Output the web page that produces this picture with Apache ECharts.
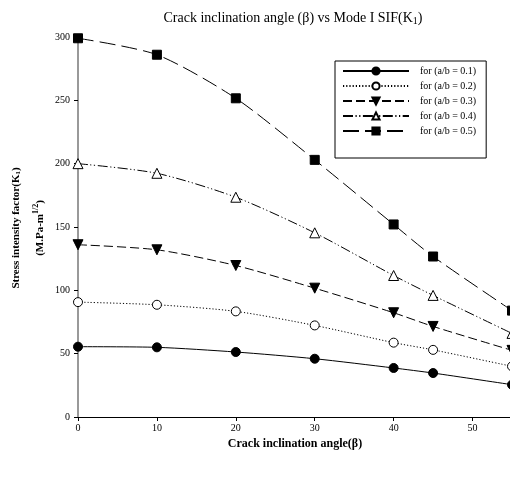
<!DOCTYPE html>
<html>
<head>
<meta charset="utf-8">
<script src="https://cdn.jsdelivr.net/npm/echarts@6/dist/echarts.min.js"></script>
<style>
html,body{margin:0;padding:0;background:#fff;}
#c{width:510px;height:479px;}
</style>
</head>
<body>
<div id="c"></div>
<script>
var angles = [0, 10, 20, 30, 40, 45, 55];
var k_01 = [55.5, 55, 51.3, 46, 38.7, 34.7, 25.5];
var k_02 = [90.7, 88.6, 83.4, 72.3, 58.7, 53, 40];
var k_03 = [136, 132, 119.6, 101.7, 82.3, 71.5, 52.6];
var k_04 = [200, 192.4, 173.5, 145.4, 111.7, 96, 66];
var k_05 = [299, 286, 251.6, 203, 152, 126.7, 84];
var seriesNames = ['for (a/b = 0.1)', 'for (a/b = 0.2)', 'for (a/b = 0.3)', 'for (a/b = 0.4)', 'for (a/b = 0.5)'];
var yTicks = [0, 50, 100, 150, 200, 250, 300];
var xTicks = [0, 10, 20, 30, 40, 50];

function pairs(v){ return angles.map(function(a,i){ return [a, v[i]]; }); }

var FONT = '"Liberation Serif", "DejaVu Serif", serif';
var chart = echarts.init(document.getElementById('c'), null, {renderer:'canvas'});

function mk(name, data, lineType, symbol, size, fill, rotate){
  return {
    name: name, type: 'line', data: pairs(data), smooth: 0.25,
    symbol: symbol, symbolSize: size, symbolRotate: rotate || 0, showSymbol: true,
    clip: false,
    lineStyle: {color: '#000', width: 1, type: lineType},
    itemStyle: {color: fill, borderColor: '#000', borderWidth: 1},
    emphasis: {disabled: true}
  };
}

var nameRich = {
  b: {fontFamily: FONT, fontSize: 11, fontWeight: 'bold', fill: '#000', color: '#000'},
  sb: {fontFamily: FONT, fontSize: 7, fontWeight: 'bold', fill: '#000', color: '#000', verticalAlign: 'bottom', padding: [5,0,0,0]},
  sp: {fontFamily: FONT, fontSize: 8, fontWeight: 'bold', fill: '#000', color: '#000', verticalAlign: 'top', padding: [0,0,8,0]}
};

chart.setOption({
  animation: false,
  backgroundColor: '#fff',
  title: {
    text: '{t|Crack inclination angle (β) vs Mode I SIF(K}{s|1}{t|)}',
    left: 288, top: 5, textAlign: 'center',
    textStyle: {
      fontWeight: 'normal',
      rich: {
        t: {fontFamily: FONT, fontSize: 14, fontWeight: 'normal', color: '#000'},
        s: {fontFamily: FONT, fontSize: 10, fontWeight: 'normal', color: '#000', verticalAlign: 'bottom', padding: [6,0,0,0]}
      }
    }
  },
  graphic: [
    {type: 'text', x: 16, y: 228, rotation: Math.PI / 2, silent: true,
     style: {text: '{b|Stress intensity factor(K}{sb|1}{b|)}', rich: nameRich, align: 'center', verticalAlign: 'middle'}},
    {type: 'text', x: 40, y: 228, rotation: Math.PI / 2, silent: true,
     style: {text: '{b|(M.Pa-m}{sp|1/2}{b|)}', rich: nameRich, align: 'center', verticalAlign: 'middle'}}
  ],
  legend: {
    orient: 'vertical', left: 335, top: 61,
    width: 170,
    padding: [5, 10, 22, 7],
    itemWidth: 66, itemHeight: 9, itemGap: 5,
    borderColor: '#000', borderWidth: 1,
    backgroundColor: '#fff',
    textStyle: {fontFamily: FONT, fontSize: 10, color: '#000', padding: [0,0,0,6]},
    data: seriesNames
  },
  grid: {left: 78, right: -2, top: 37, bottom: 62, containLabel: false, outerBoundsMode: 'none'},
  xAxis: [{
    type: 'value', min: 0, max: 55, interval: 10,
    name: 'Crack inclination angle(β)', nameLocation: 'middle', nameGap: 19,
    nameTextStyle: {fontFamily: FONT, fontSize: 12, fontWeight: 'bold', color: '#000'},
    axisLine: {show: true, onZero: false, lineStyle: {color: '#000', width: 1.2}},
    axisTick: {show: true, inside: false, length: 4, lineStyle: {color: '#000'}},
    axisLabel: {fontFamily: FONT, fontSize: 10, color: '#000', margin: 6, showMaxLabel: false,
      formatter: function(v){ return xTicks.indexOf(v) >= 0 ? String(v) : ''; }},
    splitLine: {show: false}
  }, {
    type: 'value', min: 0, max: 55, position: 'top',
    axisLine: {show: true, lineStyle: {color: '#000', width: 1.2}},
    axisTick: {show: false}, axisLabel: {show: false}, splitLine: {show: false}
  }],
  yAxis: {
    type: 'value', min: 0, max: 300, interval: 50,
    axisLine: {show: true, lineStyle: {color: '#777', width: 1.5}},
    axisTick: {show: true, inside: false, length: 4, lineStyle: {color: '#000'}},
    axisLabel: {fontFamily: FONT, fontSize: 10, color: '#000', margin: 8,
      formatter: function(v){ return yTicks.indexOf(v) >= 0 ? String(v) : ''; }},
    splitLine: {show: false}
  },
  series: [
    mk(seriesNames[0], k_01, 'solid', 'circle', 9, '#000'),
    mk(seriesNames[1], k_02, [1.2, 2], 'circle', 9, '#fff'),
    mk(seriesNames[2], k_03, [9, 4], 'triangle', 10, '#000', 180),
    mk(seriesNames[3], k_04, [10, 2.5, 1.2, 2.5, 1.2, 2.5], 'triangle', 10, '#fff'),
    mk(seriesNames[4], k_05, [16, 6], 'rect', 9, '#000')
  ]
});
</script>
</body>
</html>
